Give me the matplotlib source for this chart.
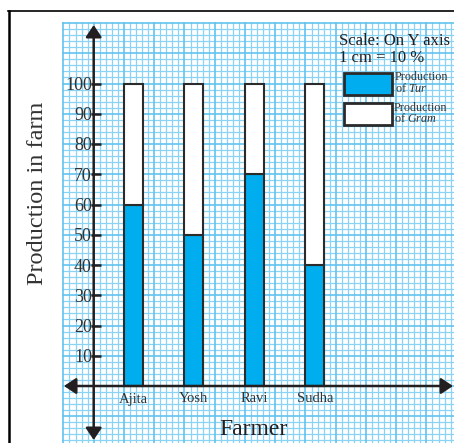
import numpy as np
import matplotlib
matplotlib.use("Agg")
import matplotlib.pyplot as plt
from matplotlib.patches import Rectangle
from matplotlib.lines import Line2D

# ---- data ----
farmers = ["Ajita", "Yosh", "Ravi", "Sudha"]
tur = [60, 50, 70, 40]        # Production of Tur (%)
gram = [40, 50, 30, 60]       # Production of Gram (%)
y_ticks = [10, 20, 30, 40, 50, 60, 70, 80, 90, 100]

# ---- style ----
plt.rcParams["font.family"] = ["Liberation Serif", "DejaVu Serif"]
plt.rcParams["mathtext.fontset"] = "custom"
plt.rcParams["mathtext.rm"] = "Liberation Serif"
plt.rcParams["mathtext.it"] = "Liberation Serif:italic"
INK = "#231f20"
BLUE = "#00aeef"
GRID_MINOR = "#8ad3f4"
GRID_MAJOR = "#62c3ef"

W, H = 454, 443
fig = plt.figure(figsize=(W / 100, H / 100), dpi=100)
ax = fig.add_axes([0, 0, 1, 1])
ax.axis("off")

# graph-paper geometry: x in cm from the y axis, y in percent (1 cm = 10 %)
PX_CM = 30.25
OX, OY = 93.7, 386.0
PX_UNIT = PX_CM / 10.0


def px(xp, yp):
    return (xp - OX) / PX_CM, (OY - yp) / PX_UNIT


x0, y1 = px(0, 0)
x1, y0 = px(W, H)
ax.set_xlim(x0, x1)
ax.set_ylim(y0, y1)

# ---- graph paper ----
gx0, gy1 = px(62, 22)
xs = np.round(np.arange(-1.0, x1 + 0.001, 0.2), 2)
ys = np.arange(-18, gy1 + 0.001, 2)
minor_x = [v for v in xs if abs(v - round(v)) > 1e-6]
major_x = [v for v in xs if abs(v - round(v)) <= 1e-6]
minor_y = [v for v in ys if v % 10 != 0]
major_y = [v for v in ys if v % 10 == 0]
ax.vlines(minor_x, y0, gy1, color=GRID_MINOR, lw=0.9, zorder=0)
ax.hlines(minor_y, gx0, x1, color=GRID_MINOR, lw=0.9, zorder=0)
ax.vlines(major_x, y0, gy1, color=GRID_MAJOR, lw=1.2, zorder=0)
ax.hlines(major_y, gx0, x1, color=GRID_MAJOR, lw=1.2, zorder=0)

# ---- frame ----
fig.add_artist(Line2D([9 / W, 9 / W], [0, 1 - 10.5 / H], color="black", lw=1.8))
fig.add_artist(Line2D([8 / W, 1], [1 - 10.8 / H] * 2, color="black", lw=1.2))

# ---- bars ----
pos = 1.31 + 2 * np.arange(len(farmers))
bw = 0.62
ax.bar(pos, tur, width=bw, color=BLUE, edgecolor="#2b2b2b", lw=1.5, zorder=3)
ax.bar(pos, gram, bottom=tur, width=bw, color="white", edgecolor="#2b2b2b", lw=1.5, zorder=3)

# ---- axes with arrows ----
astyle = "<|-|>,head_length=0.6,head_width=0.4"
_, ytop = px(0, 25)
_, ybot = px(0, 440)
ax.annotate("", xy=(0, ytop), xytext=(0, ybot),
            arrowprops=dict(arrowstyle=astyle, color=INK, lw=1.8,
                            mutation_scale=12, shrinkA=0, shrinkB=0), zorder=4)
xl, _ = px(64, 0)
xr, _ = px(453, 0)
ax.annotate("", xy=(xr, 0), xytext=(xl, 0),
            arrowprops=dict(arrowstyle=astyle, color=INK, lw=1.8,
                            mutation_scale=12, shrinkA=0, shrinkB=0), zorder=4)

# y ticks
tx0, _ = px(91, 0)
tx1, _ = px(101, 0)
ax.hlines(y_ticks, tx0, tx1, color=INK, lw=1.8, zorder=4)
lx, _ = px(92, 0)
for v in y_ticks:
    ax.text(lx, v, str(v), ha="right", va="center_baseline", fontsize=13, color="#333333", zorder=5)

# category labels
_, ly = px(0, 399)
for p, name in zip(pos, farmers):
    ax.text(p, ly, name, ha="center", va="center", fontsize=10.5, color="#333333", zorder=5)

# axis titles
fx, fy = px(253, 435)
ax.text(fx, fy, "Farmer", ha="center", va="baseline", fontsize=17, color=INK)
yx, yy = px(38, 193.5)
ax.text(yx, yy, "Production in farm", rotation=90, ha="center", va="center",
        fontsize=17.5, color="#333333")

# ---- scale note & legend ----
sx, sy = px(339, 45)
ax.text(sx, sy, "Scale: On Y axis", ha="left", va="baseline", fontsize=12, color=INK)
sx, sy = px(339, 62.5)
ax.text(sx, sy, "1 cm = 10 %", ha="left", va="baseline", fontsize=12, color=INK)

for (ytopp, ybotp, fc) in [(72.7, 95.0, BLUE), (103.3, 125.0, "white")]:
    ax_, ay_ = px(343.5, ybotp)
    bx_, by_ = px(391.5, ytopp)
    ax.add_patch(Rectangle((ax_, ay_), bx_ - ax_, by_ - ay_, facecolor=fc,
                           edgecolor="#2a2a2a", lw=2.0, zorder=5))

for (xp_, yp_, s) in [(395, 80, "Production"), (395, 91.5, r"of $\mathit{Tur}$"),
                      (394, 111, "Production"), (394, 122.5, r"of $\mathit{Gram}$")]:
    tx, ty = px(xp_, yp_)
    ax.text(tx, ty, s, ha="left", va="baseline", fontsize=8.7, color="#333333", zorder=6)

fig.savefig("out.png", dpi=100)
